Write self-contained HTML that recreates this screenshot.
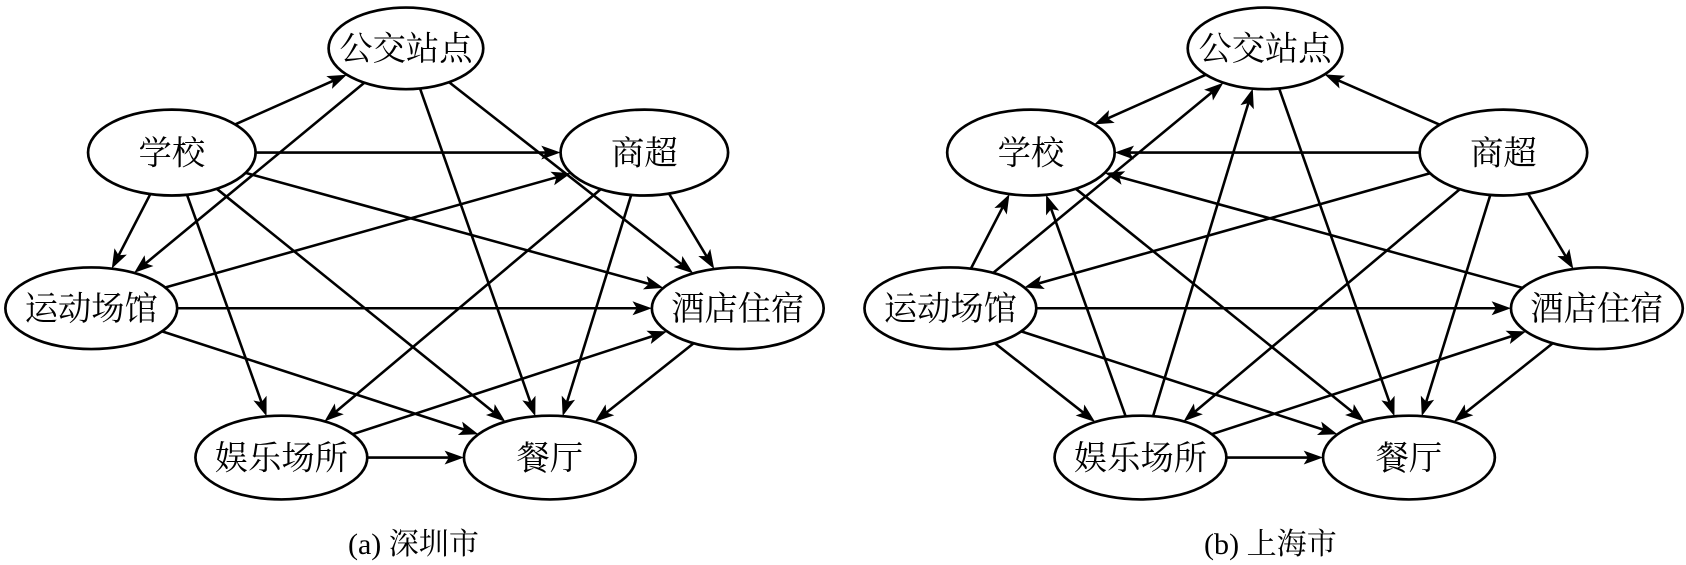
<!DOCTYPE html>
<html><head><meta charset="utf-8">
<style>
html,body{margin:0;padding:0;background:#fff;width:1686px;height:565px;overflow:hidden}
svg text{font-family:"Liberation Serif","Noto Serif CJK SC",serif;fill:#000}
</style></head>
<body>
<svg id="s" width="1686" height="565" viewBox="0 0 1570 526" xmlns="http://www.w3.org/2000/svg">
<text x="385" y="516" font-size="28" text-anchor="middle">(a) 深圳市</text>
<text x="1183" y="516" font-size="28" text-anchor="middle">(b) 上海市</text>
</svg>
<script>
var s=document.getElementById('s'),NS='http://www.w3.org/2000/svg';
var base={gj:[378,45,72,38,'公交站点'],xx:[160,142,78,40,'学校'],sc:[600,142,78,40,'商超'],
yd:[85,287,80,38,'运动场馆'],jd:[687,287,80,38,'酒店住宿'],yl:[262,426,80,39,'娱乐场所'],ct:[512,426,80,39,'餐厅']};
function node(n,dx){return [n[0]+dx,n[1],n[2],n[3]];}
function clip(c,tx,ty){var dx=tx-c[0],dy=ty-c[1];var t=1/Math.sqrt(dx*dx/(c[2]*c[2])+dy*dy/(c[3]*c[3]));return [c[0]+dx*t,c[1]+dy*t];}
function el(t,a){var e=document.createElementNS(NS,t);for(var k in a)e.setAttribute(k,a[k]);s.appendChild(e);return e;}
function edge(a,b,dx){var A=node(base[a],dx),B=node(base[b],dx);
var p=clip(A,B[0],B[1]),q=clip(B,A[0],A[1]);var vx=q[0]-p[0],vy=q[1]-p[1],L=Math.hypot(vx,vy);var ux=vx/L,uy=vy/L;
var hl=18,hw=6.5;var bx=q[0]-ux*hl,by=q[1]-uy*hl;var nx=q[0]-ux*(hl-4),ny=q[1]-uy*(hl-4);
el('line',{x1:p[0],y1:p[1],x2:nx,y2:ny,stroke:'#000','stroke-width':2.4});
el('polygon',{points:[q[0],q[1],bx-uy*hw,by+ux*hw,nx,ny,bx+uy*hw,by-ux*hw].join(' '),fill:'#000'});}
var ea=[['xx','gj'],['xx','sc'],['xx','yd'],['xx','yl'],['xx','ct'],['xx','jd'],['gj','yd'],['gj','ct'],['gj','jd'],
['yd','sc'],['yd','jd'],['yd','ct'],['sc','yl'],['sc','jd'],['sc','ct'],['yl','jd'],['yl','ct'],['jd','ct']];
var eb=[['gj','xx'],['sc','gj'],['sc','xx'],['sc','yd'],['sc','jd'],['sc','yl'],['sc','ct'],['xx','ct'],['gj','ct'],
['yd','xx'],['yd','gj'],['yd','jd'],['yd','yl'],['yd','ct'],['yl','xx'],['yl','gj'],['yl','jd'],['yl','ct'],['jd','xx'],['jd','ct']];
ea.forEach(function(e){edge(e[0],e[1],0)});eb.forEach(function(e){edge(e[0],e[1],800)});
[0,800].forEach(function(dx){for(var k in base){var n=base[k];
el('ellipse',{cx:n[0]+dx,cy:n[1],rx:n[2],ry:n[3],fill:'#fff',stroke:'#000','stroke-width':2.5});
var t=el('text',{x:n[0]+dx,y:n[1]+11,'font-size':31,'text-anchor':'middle'});t.textContent=n[4];}});
</script>
</body></html>
